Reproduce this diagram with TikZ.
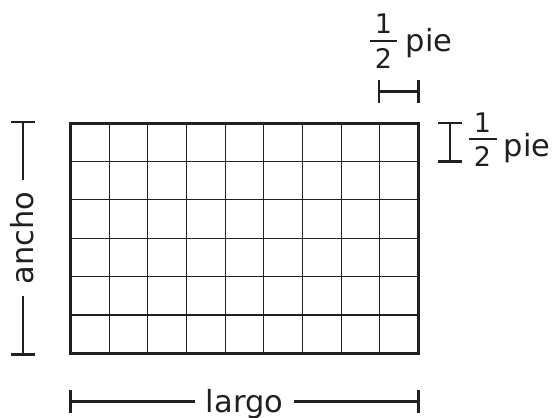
\documentclass[tikz,border=0pt]{standalone}
\usepackage{fontspec}
\setmainfont{DejaVu Sans}
\definecolor{ink}{RGB}{35,31,32}
\begin{document}
\begin{tikzpicture}[x=1pt,y=-1pt,
  txt/.style={inner sep=0pt,font=\fontsize{30.5}{36}\selectfont,text=ink},
  dig/.style={inner sep=0pt,font=\fontsize{27}{32}\selectfont,text=ink},
  dimlbl/.style={txt,inner xsep=11pt},
  dimline/.style={draw=ink,line width=2.4pt},
  fracbar/.style={draw=ink,line width=1.8pt},
  outer/.style={draw=ink,line width=3pt},
  inner/.style={draw=ink,line width=1.3pt}]
\useasboundingbox (0,0) rectangle (553,417);
% grid
\coordinate (g0) at (70.5,123);
\coordinate (g1) at (418.5,353.5);
\foreach \i in {1,...,8}{
  \draw[inner] ({70.5+\i*38.667},123) -- ({70.5+\i*38.667},353.5);
}
\foreach \j in {1,...,5}{
  \draw[inner] (70.5,{123+\j*38.417}) -- (418.5,{123+\j*38.417});
}
\draw[outer] (g0) rectangle (g1);
% ancho
\coordinate (a1) at (23,122);
\coordinate (a2) at (23,354.5);
\node[dimlbl,rotate=90,anchor=base] (ancho) at (33,238) {ancho};
\draw[dimline] (11,122) -- (35,122);
\draw[dimline] (11,354.5) -- (35,354.5);
\draw[dimline] (a1) -- (a1 |- ancho.east);
\draw[dimline] (a2) -- (a2 |- ancho.west);
% largo
\coordinate (l1) at (70.5,401.5);
\coordinate (l2) at (418.5,401.5);
\node[dimlbl,anchor=base] (largo) at (244.5,412) {largo};
\draw[dimline] (70.5,390) -- (70.5,413);
\draw[dimline] (418.5,390) -- (418.5,413);
\draw[dimline] (l1) -- (l1 -| largo.west);
\draw[dimline] (l2) -- (l2 -| largo.east);
% top half foot
\coordinate (h1) at (379,91.5);
\coordinate (h2) at (418.5,91.5);
\draw[dimline] (379,80) -- (379,103);
\draw[dimline] (418.5,80) -- (418.5,103);
\draw[dimline] (h1) -- (h2);
\node[dig,anchor=base] (tn) at (383.5,34) {1};
\node[dig,anchor=base] (td) at (383.5,68.5) {2};
\coordinate (tb1) at (370,41);
\coordinate (tb2) at (397,41);
\draw[fracbar] (tb1) -- (tb2);
\node[txt,anchor=base west] (tp) at (405.5,52) {pie};
% right half foot
\coordinate (v1) at (450,123);
\coordinate (v2) at (450,161.5);
\draw[dimline] (438,123) -- (462,123);
\draw[dimline] (438,161.5) -- (462,161.5);
\draw[dimline] (v1) -- (v2);
\node[dig,anchor=base] (rn) at (482.5,132) {1};
\node[dig,anchor=base] (rd) at (482.5,166.5) {2};
\coordinate (rb1) at (468.5,139);
\coordinate (rb2) at (496.5,139);
\draw[fracbar] (rb1) -- (rb2);
\node[txt,anchor=base west] (rp) at (503.5,156.5) {pie};
\end{tikzpicture}
\end{document}
